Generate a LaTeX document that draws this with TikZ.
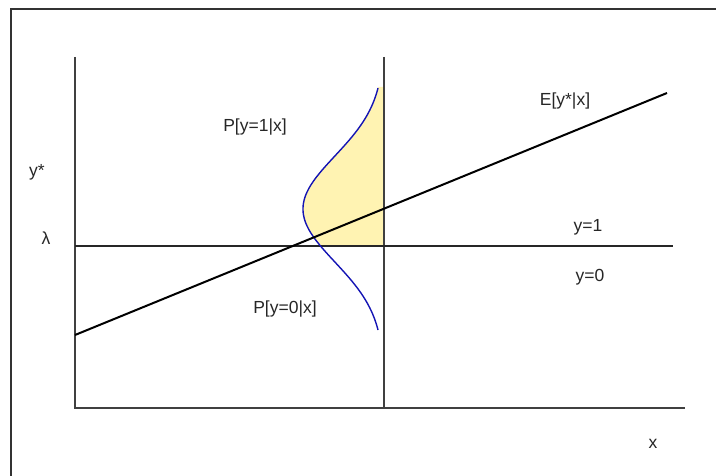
\documentclass[tikz,border=0pt]{standalone}
\usepackage{fontspec}
\setmainfont{Liberation Sans}
\usepackage{tikz}
\usetikzlibrary{positioning}
\definecolor{shadeyellow}{RGB}{255,243,178}
\definecolor{densblue}{RGB}{20,20,180}

\begin{document}
\begin{tikzpicture}[x=1pt, y=-1pt, every node/.style={font=\fontsize{17.5}{19}\selectfont, text=black!85}]
    \useasboundingbox (0,0) rectangle (716,476);

    % frame
    \draw[black!80, line width=2pt] (11,476) -- (11,9) -- (716,9);

    % shaded probability
    \fill[shadeyellow, domain=87:246, samples=80, variable=\t]
        plot ({384-81*exp(-((\t-209)/53)^2/2)}, {\t}) -- (384,246) -- (384,87) -- cycle;

    % axes and threshold
    \coordinate (origin) at (75,408);
    \draw[black!75, line width=1.3pt] (75,57) -- (origin) -- (685,408);
    \draw[black!75, line width=1.1pt] (384,57) -- (384,408);
    \draw[black!85, line width=1.1pt] (75,246) -- (673,246);

    % density of y*
    \draw[densblue, line width=1.4pt, domain=88:330, samples=120, smooth, variable=\t]
        plot ({384-81*exp(-((\t-209)/53)^2/2)}, {\t});

    % regression line
    \draw[black, line width=2pt] (75,335) -- (667,93);

    \node (ystar) at (37,172) {y*};
    \node (lambda) at (46,238) {λ};
    \node (pone) at (255,127) {P[y=1|x]};
    \node (pzero) at (285,309) {P[y=0|x]};
    \node (expect) at (565,101) {E[y*|x]};
    \node (yone) at (588,227) {y=1};
    \node (yzero) at (590,277) {y=0};
    \node (xlab) at (653,444) {x};
\end{tikzpicture}
\end{document}
